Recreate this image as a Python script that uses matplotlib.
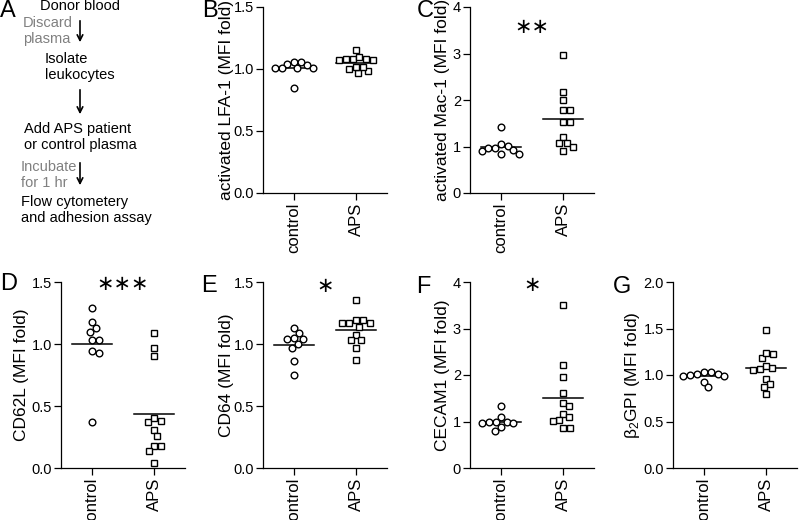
import numpy as np
import matplotlib
matplotlib.use("Agg")
import matplotlib.pyplot as plt

plt.rcParams['font.family'] = ['Liberation Sans', 'DejaVu Sans']
plt.rcParams['mathtext.fontset'] = 'custom'
plt.rcParams['mathtext.rm'] = 'Liberation Sans'
plt.rcParams['mathtext.it'] = 'Liberation Sans:italic'

groups = ["control", "APS"]

# values (fold change of MFI)
lfa1_ctrl = [1.04, 1.01, 1.06, 1.01, 1.06, 1.01, 1.01, 1.03, 0.85]
lfa1_aps = [1.08, 1.07, 1.08, 1.10, 1.15, 1.07, 1.08, 1.00, 0.965, 0.98, 1.02, 1.02]

mac1_ctrl = [1.41, 0.96, 0.91, 1.05, 0.83, 1.02, 0.83, 0.925, 0.96]
mac1_aps = [2.97, 2.18, 2.0, 1.78, 1.78, 1.53, 1.53, 1.20, 1.08, 1.08, 1.0, 0.91]

cd62l_ctrl = [1.29, 1.175, 1.13, 1.10, 1.03, 1.03, 0.94, 0.925, 0.37]
cd62l_aps = [1.09, 0.97, 0.90, 0.38, 0.37, 0.40, 0.31, 0.26, 0.18, 0.14, 0.18, 0.04]

cd64_ctrl = [1.127, 1.09, 1.04, 1.04, 1.045, 0.997, 0.965, 0.865, 0.75]
cd64_aps = [1.355, 1.19, 1.17, 1.17, 1.14, 1.17, 1.19, 1.07, 1.03, 1.03, 0.97, 0.87]

cecam_ctrl = [1.33, 1.09, 1.0, 0.96, 0.96, 0.98, 0.98, 0.875, 0.80]
cecam_aps = [3.5, 2.21, 1.95, 1.61, 1.40, 1.33, 1.16, 1.03, 1.01, 1.09, 0.85, 0.87]

b2gpi_ctrl = [1.03, 1.01, 1.0, 0.99, 0.99, 1.01, 1.03, 0.93, 0.87]
b2gpi_aps = [1.48, 1.23, 1.18, 1.24, 1.07, 1.05, 1.06, 1.10, 0.96, 0.90, 0.874, 0.80]

W, H = 800, 520
fig = plt.figure(figsize=(8, 5.2), dpi=100)

# panel A: workflow
ax0 = fig.add_axes([0, 0, 1, 1])
ax0.set_xlim(0, W)
ax0.set_ylim(H, 0)
ax0.axis('off')
fs = 10.5
grey = '#808080'
ax0.text(80, 6, "Donor blood", ha='center', va='center', fontsize=fs)
ax0.text(23, 31, "Discard\nplasma", ha='left', va='center', fontsize=fs, color=grey, linespacing=1.25)
ax0.text(45, 67, "Isolate\nleukocytes", ha='left', va='center', fontsize=fs, linespacing=1.25)
ax0.text(24, 137, "Add APS patient\nor control plasma", ha='left', va='center', fontsize=fs, linespacing=1.25)
ax0.text(21, 175, "Incubate\nfor 1 hr", ha='left', va='center', fontsize=fs, color=grey, linespacing=1.25)
ax0.text(21, 210, "Flow cytometery\nand adhesion assay", ha='left', va='center', fontsize=fs, linespacing=1.25)
for y0, y1 in [(18, 45), (87, 117), (160, 188)]:
    ax0.annotate("", xy=(80, y1), xytext=(80, y0),
                 arrowprops=dict(arrowstyle='->,head_width=0.2,head_length=0.4', color='k', lw=1.2))

letters = [("A", 0, 0), ("B", 202, 0), ("C", 417, 0),
           ("D", 0, 273), ("E", 201, 275), ("F", 416, 276), ("G", 613, 276)]
for s, x, y in letters:
    fig.text(x / W, 1 - y / H, s, fontsize=17, ha='left', va='top')


def swarm(vals, ppx, ppy, diam=7.0):
    vals = np.asarray(vals)
    order = np.argsort(-vals)
    xs = np.zeros(len(vals))
    placed = []
    for i in order:
        y = vals[i] * ppy
        bad = []
        for px, py in placed:
            dy = abs(py - y)
            if dy < diam:
                w = np.sqrt(diam ** 2 - dy ** 2)
                bad.append((px - w, px + w))
        cands = [0.0] + [a for a, b in bad] + [b for a, b in bad]
        ok = [c for c in cands if all(not (a + 1e-6 < c < b - 1e-6) for a, b in bad)]
        x = min(ok, key=lambda c: (round(abs(c), 6), -c))
        xs[i] = x
        placed.append((x, y))
    return xs / ppx


def panel(left, top, ctrl, aps, ymax, yticks, ylabel, label_px, stars=None, star_y=None):
    aw, ah = 124, 186
    ax = fig.add_axes([left / W, (H - top - ah) / H, aw / W, ah / H])
    ax.set_xlim(-0.5, 1.5)
    ax.set_ylim(0, ymax)
    ppx = aw / 2.0
    ppy = ah / ymax
    for k, (vals, mk) in enumerate([(ctrl, 'o'), (aps, 's')]):
        xs = k + swarm(vals, ppx, ppy)
        ax.plot(xs, vals, ls='none', marker=mk, ms=4.8, mfc='white', mec='k', mew=1.0, clip_on=False, zorder=3)
        m = np.mean(vals)
        ax.plot([k - 0.33, k + 0.33], [m, m], color='k', lw=1.1, zorder=2)
    for sp in ['top', 'right']:
        ax.spines[sp].set_visible(False)
    for sp in ['left', 'bottom']:
        ax.spines[sp].set_linewidth(0.9)
    ax.set_xticks([0, 1])
    ax.set_xticklabels(groups, rotation=90, fontsize=12)
    ax.set_yticks(yticks)
    if ymax > 2.5:
        ax.set_yticklabels([str(int(t)) for t in yticks], fontsize=10.5)
    else:
        ax.set_yticklabels(["%.1f" % t for t in yticks], fontsize=10.5)
    ax.tick_params(axis='both', direction='out', length=5, width=0.9, pad=2)
    ax.tick_params(axis='y', pad=1.5)
    ax.set_ylabel(ylabel, fontsize=12.5, va='center')
    ax.yaxis.set_label_coords(-label_px / aw, 0.5)
    if stars:
        ax.text(0.5, star_y, stars, ha='center', va='center', fontsize=15, family='DejaVu Sans')
    return ax


panel(263, 7, lfa1_ctrl, lfa1_aps, 1.5, [0, 0.5, 1.0, 1.5], "activated LFA-1 (MFI fold)", 36)
panel(470, 7, mac1_ctrl, mac1_aps, 4, [0, 1, 2, 3, 4], "activated Mac-1 (MFI fold)", 27, "\u2217\u2217", 3.57)
panel(61, 282, cd62l_ctrl, cd62l_aps, 1.5, [0, 0.5, 1.0, 1.5], "CD62L (MFI fold)", 39, "\u2217\u2217\u2217", 1.48)
panel(263, 282, cd64_ctrl, cd64_aps, 1.5, [0, 0.5, 1.0, 1.5], "CD64 (MFI fold)", 36, "\u2217", 1.47)
panel(470, 282, cecam_ctrl, cecam_aps, 4, [0, 1, 2, 3, 4], "CECAM1 (MFI fold)", 28, "\u2217", 3.94)
panel(673, 282, b2gpi_ctrl, b2gpi_aps, 2.0, [0, 0.5, 1.0, 1.5, 2.0], "\u03b2$_2$GPI (MFI fold)", 41)

fig.savefig("out.png", dpi=100)
